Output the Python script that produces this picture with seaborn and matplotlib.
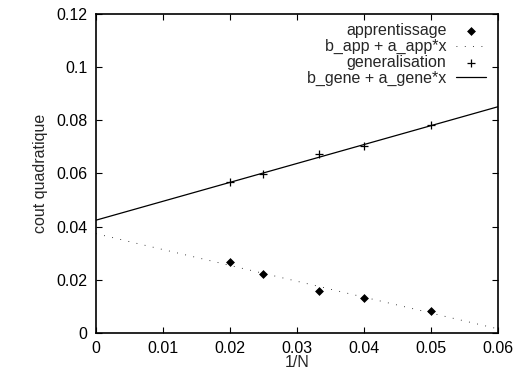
import numpy as np
import pandas as pd
import matplotlib
matplotlib.use("Agg")
import matplotlib.pyplot as plt
import seaborn as sns

# Data
inv_n = [0.02, 0.025, 0.0333, 0.04, 0.05]
apprentissage = [0.0266, 0.0221, 0.0158, 0.0132, 0.0084]
generalisation = [0.0566, 0.0597, 0.0672, 0.0701, 0.0780]
x_ticks = [0, 0.01, 0.02, 0.03, 0.04, 0.05, 0.06]
x_tick_labels = ["0", "0.01", "0.02", "0.03", "0.04", "0.05", "0.06"]
y_ticks = [0, 0.02, 0.04, 0.06, 0.08, 0.1, 0.12]
y_tick_labels = ["0", "0.02", "0.04", "0.06", "0.08", "0.1", "0.12"]

sns.set_style("ticks")
plt.rcParams["font.family"] = ["Liberation Sans", "DejaVu Sans"]

# Linear fits
a_app, b_app = np.polyfit(inv_n, apprentissage, 1)
a_gene, b_gene = np.polyfit(inv_n, generalisation, 1)
xs = np.linspace(0, 0.06, 100)
df_pts = pd.DataFrame({"x": inv_n, "app": apprentissage, "gene": generalisation})
df_fit = pd.DataFrame({"x": xs, "app": b_app + a_app * xs, "gene": b_gene + a_gene * xs})

fig = plt.figure(figsize=(5.16, 3.74), dpi=100)
ax = fig.add_axes([0.186, 0.110, 0.779, 0.853])

sns.scatterplot(data=df_pts, x="x", y="app", ax=ax, marker="D", s=16, color="black",
                edgecolor="black", linewidth=0.5, label="apprentissage", zorder=3)
sns.lineplot(data=df_fit, x="x", y="app", ax=ax, color="black", linewidth=0.6,
             linestyle=(0, (1, 9)), label="b_app + a_app*x")
sns.scatterplot(data=df_pts, x="x", y="gene", ax=ax, marker="+", s=30, color="black",
                linewidth=0.9, label="generalisation", zorder=3)
sns.lineplot(data=df_fit, x="x", y="gene", ax=ax, color="black", linewidth=0.9,
             label="b_gene + a_gene*x")

ax.set_xlim(0, 0.06)
ax.set_ylim(0, 0.12)
ax.set_xticks(x_ticks)
ax.set_xticklabels(x_tick_labels)
ax.set_yticks(y_ticks)
ax.set_yticklabels(y_tick_labels)
ax.tick_params(direction="in", top=True, right=True, length=4, width=0.8,
               labelsize=11.5, colors="black", pad=6)
for sp in ax.spines.values():
    sp.set_linewidth(1.2)
    sp.set_color("black")
    sp.set_visible(True)

ax.set_xlabel("1/N", fontsize=11.5, labelpad=-1)
ax.set_ylabel("cout quadratique", fontsize=11.5, labelpad=6)

leg = ax.legend(loc="upper right", markerfirst=False, frameon=False, fontsize=11.5,
                handlelength=1.9, handletextpad=0.6, labelspacing=0.05,
                bbox_to_anchor=(0.995, 1.0), borderaxespad=0.2)
for t in leg.get_texts():
    t.set_ha("right")
leg._legend_box.align = "right"

fig.savefig("out.png", dpi=100)
